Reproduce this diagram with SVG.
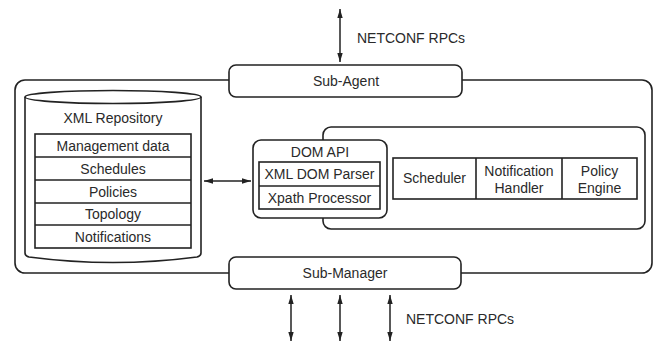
<svg xmlns="http://www.w3.org/2000/svg" width="657" height="341" viewBox="0 0 657 341">
  <style>
    .box { fill: #fff; stroke: #222; stroke-width: 1.6; }
    .line { fill: none; stroke: #222; stroke-width: 1.6; }
    .conn { fill: none; stroke: #222; stroke-width: 1.5; marker-start: url(#arrow); marker-end: url(#arrow); }
    text { font-family: "Liberation Sans", Arial, sans-serif; font-size: 14px; fill: #2a2a2a; text-anchor: middle; }
    .left { text-anchor: start; }
  </style>
  <defs>
    <marker id="arrow" viewBox="0 0 10 6" refX="10" refY="3" markerWidth="9" markerHeight="6" markerUnits="userSpaceOnUse" orient="auto-start-reverse">
      <path d="M0,0 L10,3 L0,6 z" fill="#222"/>
    </marker>
  </defs>

  <!-- enclosing frame of the agent -->
  <g id="frame">
    <rect class="line" x="15" y="80" width="637" height="193" rx="10"/>
  </g>

  <!-- connectors -->
  <g id="connectors">
    <line class="conn" x1="340" y1="9" x2="340" y2="62"/>
    <line class="conn" x1="204" y1="181" x2="251" y2="181"/>
    <line class="conn" x1="291" y1="295" x2="291" y2="341"/>
    <line class="conn" x1="340" y1="295" x2="340" y2="341"/>
    <line class="conn" x1="390" y1="295" x2="390" y2="341"/>
    <text class="left" x="357" y="43">NETCONF RPCs</text>
    <text class="left" x="406" y="324">NETCONF RPCs</text>
  </g>

  <g id="sub-agent">
    <rect class="box" x="229" y="65" width="233" height="32" rx="7"/>
    <text x="346" y="86">Sub-Agent</text>
  </g>

  <g id="sub-manager">
    <rect class="box" x="229" y="257" width="232" height="32" rx="7"/>
    <text x="345" y="278">Sub-Manager</text>
  </g>

  <!-- cylinder holding the XML data store -->
  <g id="xml-repository">
    <path class="box" d="M25,97 L25,253 Q25,256 29,257 Q113,268 197,257 Q201,256 201,253 L201,97"/>
    <ellipse class="box" cx="113" cy="97" rx="88" ry="6.5"/>
    <text x="113" y="123">XML Repository</text>
    <rect class="box" x="35" y="134" width="156" height="114"/>
    <line class="line" x1="35" y1="157" x2="191" y2="157"/>
    <line class="line" x1="35" y1="180" x2="191" y2="180"/>
    <line class="line" x1="35" y1="203" x2="191" y2="203"/>
    <line class="line" x1="35" y1="225" x2="191" y2="225"/>
    <text x="113" y="151">Management data</text>
    <text x="113" y="174">Schedules</text>
    <text x="113" y="197">Policies</text>
    <text x="113" y="219">Topology</text>
    <text x="113" y="242">Notifications</text>
  </g>

  <!-- panel with the processing engines -->
  <g id="engines">
    <rect class="box" x="323" y="127" width="322" height="102" rx="8"/>
    <rect class="box" x="393" y="158" width="244" height="41"/>
    <line class="line" x1="476" y1="158" x2="476" y2="199"/>
    <line class="line" x1="562" y1="158" x2="562" y2="199"/>
    <text x="434.5" y="183">Scheduler</text>
    <text x="519" y="176">Notification</text>
    <text x="519" y="193">Handler</text>
    <text x="599.5" y="176">Policy</text>
    <text x="599.5" y="193">Engine</text>
  </g>

  <g id="dom-api">
    <rect class="box" x="253" y="140" width="134" height="78" rx="8"/>
    <text x="320" y="157">DOM API</text>
    <rect class="box" x="259" y="162" width="121" height="47"/>
    <line class="line" x1="259" y1="186" x2="380" y2="186"/>
    <text x="319.5" y="179">XML DOM Parser</text>
    <text x="319.5" y="203">Xpath Processor</text>
  </g>
</svg>
